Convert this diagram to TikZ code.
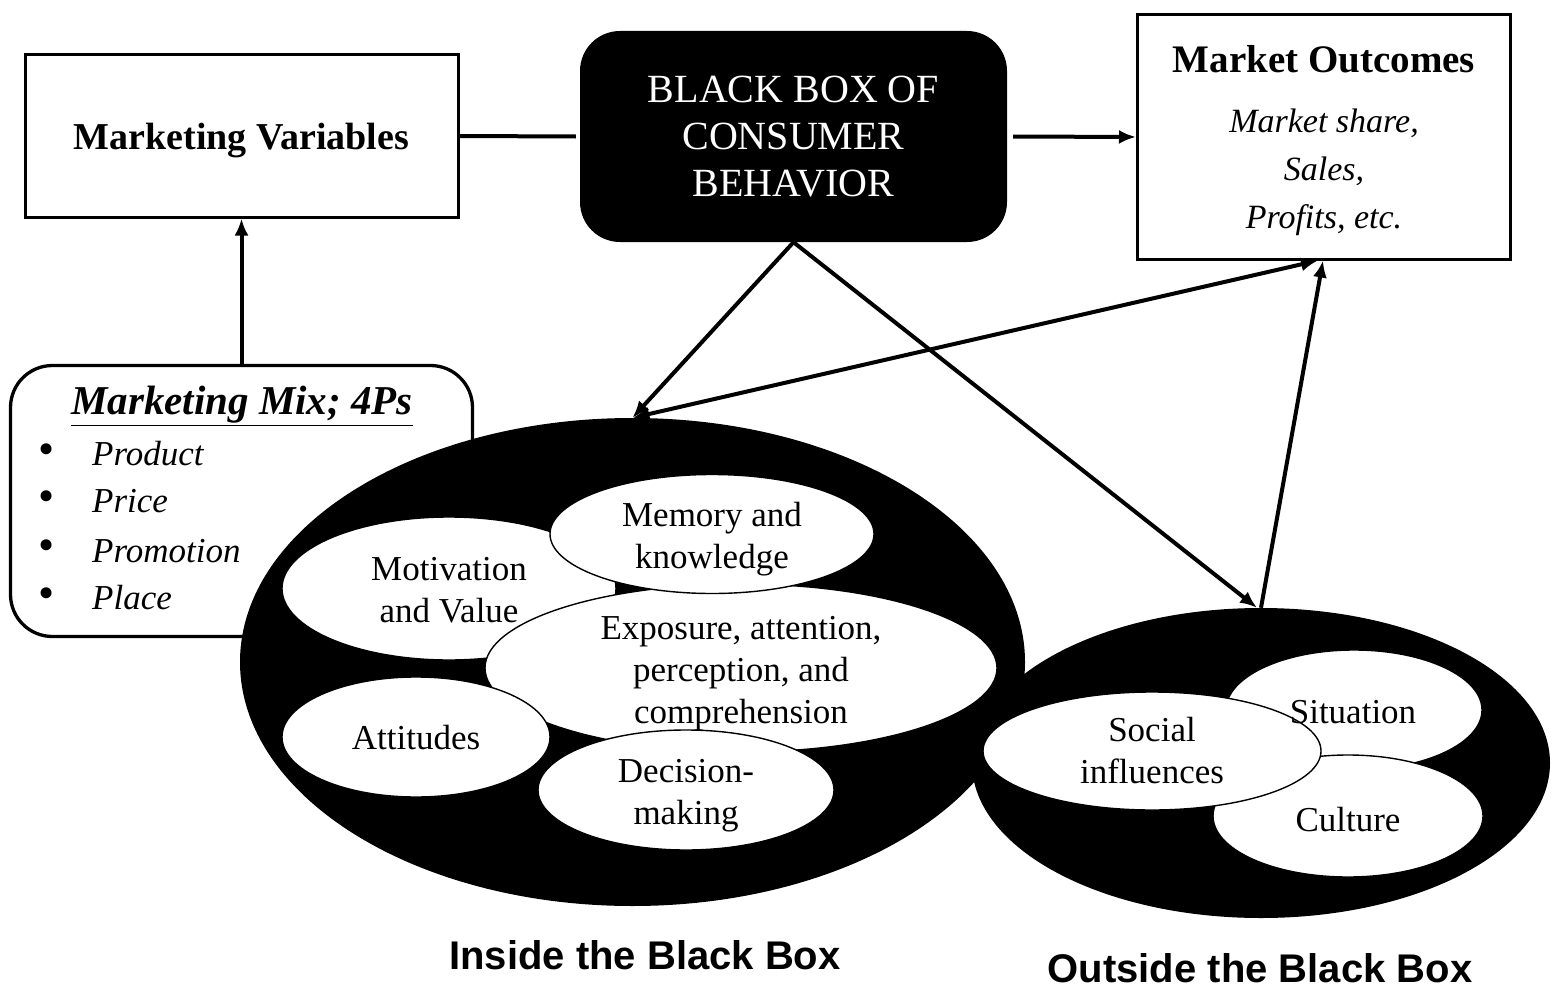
\documentclass[tikz,border=0pt]{standalone}
\usepackage{fontspec}
\setmainfont{Liberation Serif}
\newfontfamily\labelsans{Liberation Sans}
\usetikzlibrary{arrows.meta,shapes.geometric}
\begin{document}
\begin{tikzpicture}[x=1pt,y=-1pt,
  conn/.style={line width=4pt},
  arr/.style={conn,-{Latex[length=17pt,width=14pt]}},
  darr/.style={conn,{Latex[length=17pt,width=14pt]}-{Latex[length=17pt,width=14pt]}},
  whiteell/.style={ellipse,draw=black,fill=white,line width=1.4pt,inner sep=0pt},
  blackell/.style={ellipse,fill=black,inner sep=0pt},
  sqbox/.style={draw=black,line width=3pt,inner sep=0pt},
  etxt/.style={align=center,inner sep=0pt,font=\fontsize{35}{42}\selectfont},
  itm/.style={anchor=base west,inner sep=0pt,font=\fontsize{35}{40}\selectfont\itshape},
  bul/.style={inner sep=0pt,font=\fontsize{46}{50}\selectfont},
  biglabel/.style={inner sep=0pt,font=\fontsize{40}{48}\selectfont\labelsans\bfseries}
]
\useasboundingbox (0,0) rectangle (1556,998);

% Top row boxes
\node[sqbox,minimum width=433pt,minimum height=162pt] (mv) at (241.5,136) {};
\node[inner sep=0pt,font=\fontsize{38}{46}\selectfont\bfseries] (mvt) at (241.5,141) {Marketing Variables};

\node[fill=black,rounded corners=40pt,minimum width=427pt,minimum height=211pt,inner sep=0pt] (bb) at (793.5,136.5) {};
\node[text=white,align=center,inner sep=0pt,font=\fontsize{40}{47}\selectfont] (bbt) at (793.5,137) {BLACK BOX OF\\CONSUMER\\BEHAVIOR};

\node[sqbox,minimum width=373pt,minimum height=244pt] (mo) at (1324,137) {};
\node[inner sep=0pt,font=\fontsize{39}{46}\selectfont\bfseries] (mot) at (1324,59) {Market Outcomes};
\node[align=center,inner sep=0pt,font=\fontsize{34}{48}\selectfont\itshape] (moi) at (1324,172) {Market share,\\Sales,\\Profits, etc.};

% Marketing mix box
\node[draw=black,line width=3.3pt,rounded corners=42pt,minimum width=462pt,minimum height=271pt,inner sep=0pt] (mm) at (241.5,501) {};
\node[inner sep=0pt,font=\fontsize{41}{48}\selectfont\bfseries\itshape] (mmt) at (242,406) {\underline{Marketing Mix; 4Ps}};
\node[bul] (b1) at (47,454) {\textbullet};
\node[bul] (b2) at (47,501) {\textbullet};
\node[bul] (b3) at (47,550) {\textbullet};
\node[bul] (b4) at (47,598) {\textbullet};
\node[itm] (p1) at (92,465) {Product};
\node[itm] (p2) at (92,512) {Price};
\node[itm] (p3) at (92,562) {Promotion};
\node[itm] (p4) at (92,609) {Place};

% Inside the black box
\node[blackell,minimum width=785pt,minimum height=488pt] (inside) at (632.5,662) {};
\node[whiteell,minimum width=334pt,minimum height=143pt] (motiv) at (449,588.5) {};
\node[whiteell,minimum width=512pt,minimum height=168pt] (expo) at (741,668) {};
\node[whiteell,minimum width=324pt,minimum height=119pt] (memo) at (712,534) {};
\node[whiteell,minimum width=268pt,minimum height=120pt] (atti) at (416,737) {};
\node[whiteell,minimum width=296pt,minimum height=120pt] (deci) at (686,790) {};
\node[etxt] (motivt) at (449,590) {Motivation\\and Value};
\node[etxt] (expot) at (741,674) {Exposure, attention,\\perception, and\\comprehension};
\node[etxt] (memot) at (712,539) {Memory and\\knowledge};
\node[etxt] (attit) at (416,738) {Attitudes};
\node[etxt] (decit) at (686,796) {Decision-\\making};

% Outside the black box
\node[blackell,minimum width=578pt,minimum height=310pt] (outside) at (1261,763) {};
\node[whiteell,minimum width=256pt,minimum height=120pt] (situ) at (1354,710) {};
\node[whiteell,minimum width=270pt,minimum height=122pt] (cult) at (1348,816) {};
\node[whiteell,minimum width=338pt,minimum height=118pt] (soci) at (1152,751) {};
\node[etxt] (situt) at (1353,712) {Situation};
\node[etxt] (cultt) at (1348,820) {Culture};
\node[etxt] (socit) at (1152,751) {Social\\influences};

% Bottom labels
\node[biglabel] (inlab) at (645,955) {Inside the Black Box};
\node[biglabel] (outlab) at (1260,968) {Outside the Black Box};

% Connectors
\draw[conn] (mv.east) -- ([xshift=-4pt]bb.west);
\draw[arr] ([xshift=6pt]bb.east) -- (mo.west);
\draw[arr] (mm.north) -- (mv.south);
\draw[arr] (bb.south) -- (inside.north);
\draw[arr] (bb.south) -- ([xshift=-4pt]outside.north);
\draw[arr] (outside.north) -- ([xshift=-1pt]mo.south);
\draw[darr] (inside.north) -- ([xshift=-6pt]mo.south);
\end{tikzpicture}
\end{document}
